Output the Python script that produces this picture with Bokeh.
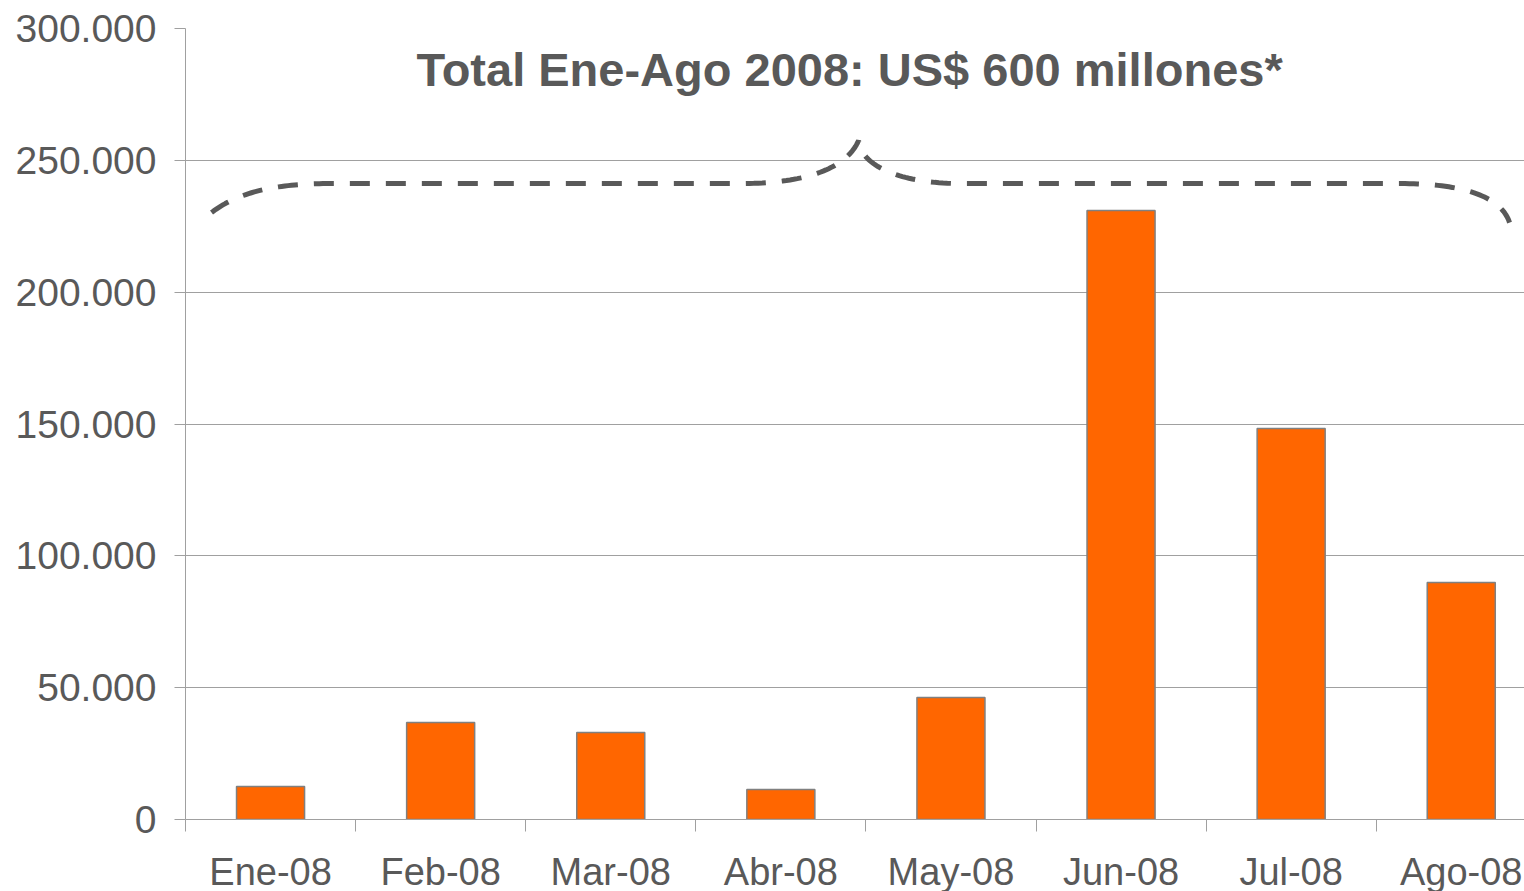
from bokeh.plotting import figure
from bokeh.models import FixedTicker, Label, Range1d
from bokeh.embed import file_html
from bokeh.resources import INLINE

# ---- data ----
months = ["Ene-08", "Feb-08", "Mar-08", "Abr-08", "May-08", "Jun-08", "Jul-08", "Ago-08"]
amounts = [12500, 36800, 33000, 11400, 46300, 231000, 148300, 89900]
y_ticks = [0, 50000, 100000, 150000, 200000, 250000, 300000]
title_text = "Total Ene-Ago 2008: US$ 600 millones*"

FONT = "Liberation Sans"
TXT = "#595959"
AX = "#a0a0a0"

xs = list(range(1, len(months) + 1))
bounds = [i + 0.5 for i in range(len(months) + 1)]

p = figure(frame_width=1339, frame_height=791,
           x_range=Range1d(0.5, 0.5 + 1339 / 170.1), y_range=Range1d(0, 300000),
           output_backend="svg", toolbar_location=None,
           min_border_left=185, min_border_right=0, min_border_top=28, min_border_bottom=72)
p.outline_line_color = None
p.xgrid.grid_line_color = None
p.ygrid.ticker = FixedTicker(ticks=y_ticks)
p.ygrid.grid_line_color = AX
p.ygrid.grid_line_width = 1

p.vbar(x=xs, top=amounts, width=0.4, fill_color="#FF6600", line_color="#808080", line_width=1.5)

# x axis
xa = p.xaxis[0]
xa.ticker = FixedTicker(ticks=xs, minor_ticks=bounds)
xa.major_label_overrides = {x: m for x, m in zip(xs, months)}
xa.major_tick_line_color = None
xa.major_tick_out = 10
xa.major_tick_in = 0
xa.minor_tick_out = 12
xa.minor_tick_in = 0
xa.minor_tick_line_color = AX
xa.axis_line_color = AX
xa.major_label_standoff = 19
xa.major_label_text_font = FONT
xa.major_label_text_font_size = "38px"
xa.major_label_text_color = TXT

# y axis
ya = p.yaxis[0]
ya.ticker = FixedTicker(ticks=y_ticks)
ya.major_label_overrides = {v: f"{v:,}".replace(",", ".") for v in y_ticks}
ya.major_tick_out = 11
ya.major_tick_in = 0
ya.major_tick_line_color = AX
ya.minor_tick_line_color = None
ya.axis_line_color = AX
ya.major_label_standoff = 18
ya.major_label_text_font = FONT
ya.major_label_text_font_size = "39px"
ya.major_label_text_color = TXT


# dashed curly brace annotation (cubic bezier segments, data units)
def bez(p0, c1, c2, p3, n=40):
    pts = []
    for i in range(n + 1):
        t = i / n
        a, b, c, d = (1 - t) ** 3, 3 * (1 - t) ** 2 * t, 3 * (1 - t) * t ** 2, t ** 3
        pts.append((a * p0[0] + b * c1[0] + c * c2[0] + d * p3[0],
                    a * p0[1] + b * c1[1] + c * c2[1] + d * p3[1]))
    return pts

lvl = 241200
path = []
path += bez((0.653, 230200), (0.823, 238600), (1.058, lvl), (1.352, lvl))
path += bez((3.763, lvl), (4.116, lvl), (4.380, 246100), (4.457, 257500))
path += bez((4.457, 257500), (4.468, 248000), (4.703, lvl), (5.056, lvl))
path += bez((7.643, lvl), (7.996, lvl), (8.231, 236700), (8.284, 226400))
p.line([q[0] for q in path], [q[1] for q in path], line_color=TXT, line_width=5, line_dash="20 16")

p.add_layout(Label(x=4.404, y=284450, text=title_text, text_align="center", text_baseline="middle",
                   text_font=FONT, text_font_style="bold", text_font_size="47px", text_color=TXT))

open("out.html", "w").write(file_html(p, INLINE))
